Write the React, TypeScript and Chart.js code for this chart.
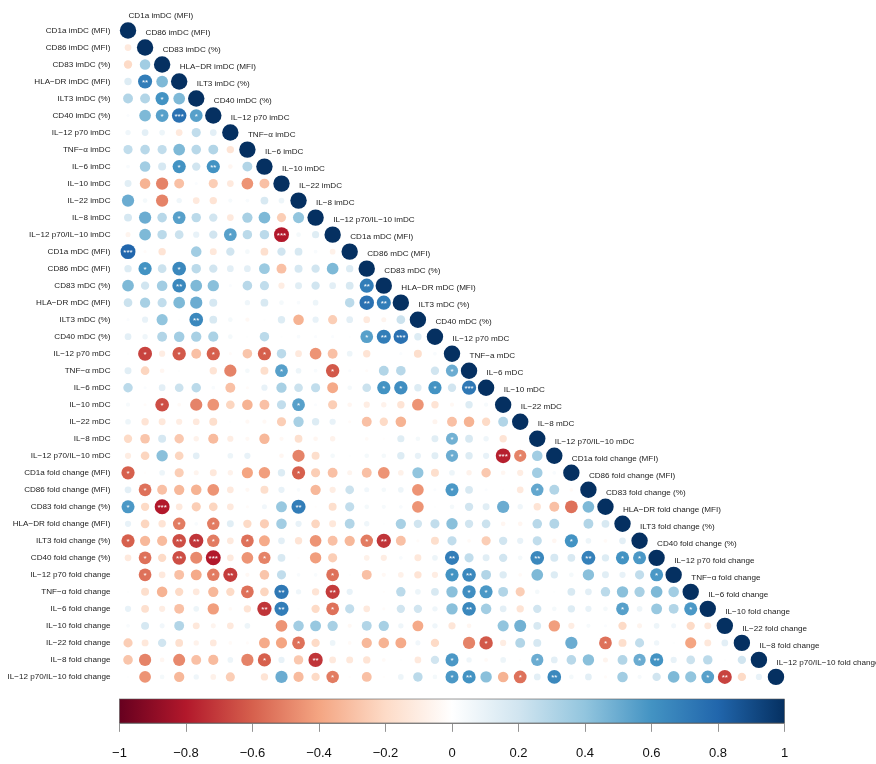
import React, { useEffect, useRef } from "react";
import { Chart, registerables } from "chart.js";

Chart.register(...registerables);

const imdcLabels = ["CD1a imDC (MFI)", "CD86 imDC (MFI)", "CD83 imDC (%)", "HLA−DR imDC (MFI)", "ILT3 imDC (%)", "CD40 imDC (%)", "IL−12 p70 imDC", "TNF−α imDC", "IL−6 imDC", "IL−10 imDC", "IL−22 imDC", "IL−8 imDC", "IL−12 p70/IL−10 imDC"];
const mdcLabels = ["CD1a mDC (MFI)", "CD86 mDC (MFI)", "CD83 mDC (%)", "HLA−DR mDC (MFI)", "ILT3 mDC (%)", "CD40 mDC (%)", "IL−12 p70 mDC", "TNF−α mDC", "IL−6 mDC", "IL−10 mDC", "IL−22 mDC", "IL−8 mDC", "IL−12 p70/IL−10 mDC"];
const foldLabels = ["CD1a fold change (MFI)", "CD86 fold change (MFI)", "CD83 fold change (%)", "HLA−DR fold change (MFI)", "ILT3 fold change (%)", "CD40 fold change (%)", "IL−12 p70 fold change", "TNF−α fold change", "IL−6 fold change", "IL−10 fold change", "IL−22 fold change", "IL−8 fold change", "IL−12 p70/IL−10 fold change"];
const rowLabels = [...imdcLabels, ...mdcLabels, ...foldLabels];
const topLabels = rowLabels.map((l) => (l === "TNF−α mDC" ? "TNF−a mDC" : l));

const imdcRows = [
  [1],
  [-.12, 1],
  [-.2, .35, 1],
  [.15, .7, .45, 1],
  [.3, .3, .6, .45, 1],
  [.02, .45, .55, .75, .55, 1],
  [.07, .12, .08, -.12, .25, .12, 1],
  [.25, .28, .25, .45, .28, .3, -.15, 1],
  [.03, .35, .18, .6, .2, .6, -.05, .3, 1],
  [.13, -.35, -.5, -.3, .02, -.25, -.12, -.45, -.3, 1],
  [.5, .05, -.5, .07, -.12, -.15, .04, .03, .17, .08, 1],
  [.18, .5, .28, .55, .27, .2, -.12, .33, .45, -.25, .4, 1],
  [-.06, .45, .27, .22, .1, .2, .55, .27, .27, -.8, .05, .14, 1],
];
const mdcRows = [
  [.8, -.02, -.15, 0, .35, -.13, .2, .05, -.17, .2, .17, .03, -.08, 1],
  [.15, .6, .22, .65, .27, .2, .12, .12, .37, -.3, .18, .2, .45, .15, 1],
  [.45, .2, .35, .65, .45, .42, .02, .28, .25, -.1, .13, .2, .12, .17, .7, 1],
  [.22, .33, .25, .45, .5, .18, 0, .07, .17, .05, .03, .08, 0, .27, .75, .7, 1],
  [.02, .1, .4, .01, .65, .17, .05, -.04, .01, .15, -.35, .1, -.25, .12, -.12, -.06, .22, 1],
  [.12, .07, .3, .35, .33, .32, .05, .01, .27, .01, .03, .02, .02, .01, .55, .7, .75, .15, 1],
  [.01, -.68, -.1, -.62, -.3, -.6, -.02, -.28, -.6, .27, -.12, -.45, -.3, .08, -.15, 0, .02, -.18, .03, 1],
  [.13, -.22, -.05, .01, 0, -.15, -.5, .05, -.18, .55, .08, .03, -.62, .02, -.02, .3, .28, 0, .2, .5, 1],
  [.27, .02, .12, .22, .27, .03, -.3, -.02, .1, .33, .22, .25, -.38, .05, .22, .6, .62, .15, .6, .2, .72, 1],
  [.04, -.02, -.65, -.03, -.5, -.45, -.22, -.35, -.3, .25, .55, .02, -.25, -.05, -.1, -.07, -.15, -.45, -.15, -.04, .15, .04, 1],
  [.08, -.15, -.13, -.1, -.12, -.18, .01, -.04, -.04, -.25, .33, .15, .1, -.02, -.3, -.2, -.35, 0, -.06, -.3, -.35, -.2, .3, 1],
  [-.2, -.28, .18, -.27, -.07, -.32, -.1, -.04, -.33, -.04, -.17, -.05, -.07, 0, -.03, -.01, .14, .05, .13, .48, .17, .07, -.15, 0, 1],
  [-.1, -.22, .42, -.22, .12, 0, .08, .1, 0, -.05, -.5, -.18, .05, .01, .05, .05, .15, .1, .13, .5, .15, .1, -.78, -.5, .35, 1],
];
const foldRows = [
  [-.6, -.01, .08, -.25, -.06, -.13, -.07, -.4, -.42, .15, -.6, -.25, -.3, -.06, -.3, -.45, -.08, .4, -.18, .08, -.07, -.27, -.05, -.1, .35, .03, 1],
  [.12, -.55, -.3, -.33, -.35, -.45, -.12, -.04, -.18, .1, .03, -.33, -.1, .22, .06, .05, .08, -.45, .02, .58, .17, .02, .01, -.12, .52, .3, -.03, 1],
  [.58, -.2, -.8, -.12, -.25, -.22, -.12, -.02, .06, .38, .7, -.01, -.18, .25, .05, .04, .03, -.45, .01, .05, .2, .13, .5, .07, -.15, -.3, -.55, .45, 1],
  [.1, -.22, -.15, -.52, .03, -.52, .13, -.2, -.25, .35, .1, -.22, -.13, .3, .07, .01, .33, .2, .25, .42, .2, .22, -.05, -.05, .28, .3, 0, .3, .17, 1],
  [-.6, -.33, -.32, -.65, -.72, -.52, -.12, -.55, -.38, .12, -.15, -.45, -.3, -.33, -.52, -.72, -.3, -.02, -.18, .25, -.03, -.25, .2, .1, .25, -.05, .6, .08, -.03, .12, 1],
  [-.12, -.55, -.2, -.65, -.48, -.8, -.12, -.45, -.5, .17, -.01, -.42, -.25, 0, -.08, -.1, .03, -.13, .08, .7, .25, .13, .2, .05, .65, .18, .17, .68, .15, .6, .58, 1],
  [0, -.55, -.12, -.3, -.38, -.52, -.7, -.04, -.28, .25, .03, .03, -.55, .01, -.3, -.04, -.08, -.15, -.1, .6, .65, .3, .15, -.03, .45, .15, .05, .42, .13, .1, .25, .58, 1],
  [.01, -.18, -.35, -.2, -.12, -.33, -.2, -.55, -.22, .72, .07, -.15, -.7, .1, 0, -.01, .27, .08, .17, .42, .62, .58, .3, -.25, .05, .01, .17, .12, .27, .42, .33, .45, .35, 1],
  [.1, -.17, -.1, -.3, .08, -.42, -.03, -.15, -.72, .7, .01, -.2, -.55, .25, -.12, -.02, .2, .2, .07, .42, .65, .35, .12, -.15, .2, .05, .15, .1, .05, .55, .08, .38, .3, .58, 1],
  [.03, .18, .06, .3, -.13, -.06, -.12, .08, 0, -.45, .35, .38, .33, -.04, .3, .33, .07, -.38, .07, -.14, -.05, 0, .4, .48, .17, -.42, -.1, .04, .02, -.2, -.06, .08, .06, -.2, -.13, 1],
  [-.25, -.13, .2, -.17, -.07, -.12, -.03, -.02, -.38, -.4, -.55, -.2, .08, -.03, -.33, -.35, -.38, .06, -.2, 0, -.5, -.62, -.1, .3, .18, 0, .5, 0, -.55, -.18, .25, .07, .01, -.4, -.13, .12, 1],
  [-.28, -.5, -.05, -.48, -.3, -.32, .08, -.5, -.6, .1, -.27, -.72, -.12, -.13, -.15, -.03, .01, -.12, .2, .58, .07, -.03, .08, -.01, .5, .12, .28, .42, -.06, .3, .5, .6, .1, .22, .27, .01, .2, 1],
  [.01, -.45, .05, -.33, .07, -.08, -.25, 0, -.15, .5, -.32, -.2, -.52, -.01, -.3, -.01, .08, .27, .05, .58, .6, .42, -.35, -.55, .12, .65, .05, .12, -.02, .35, .04, .2, .45, .4, .55, -.68, -.2, .1, 1],
];
const corrRows = [...imdcRows, ...mdcRows, ...foldRows];

// [row, column, significance stars]
const stars: [number, number, string][] = [
  [3, 1, "**"], [4, 2, "*"], [5, 2, "*"], [5, 3, "***"], [5, 4, "*"], [8, 3, "*"], [8, 5, "**"], [11, 3, "*"], [12, 6, "*"], [12, 9, "***"],
  [13, 0, "***"], [14, 1, "*"], [14, 3, "*"], [15, 3, "**"], [15, 14, "**"], [16, 14, "**"], [16, 15, "**"], [17, 4, "**"],
  [18, 14, "*"], [18, 15, "**"], [18, 16, "***"], [19, 1, "*"], [19, 3, "*"], [19, 5, "*"], [19, 8, "*"], [20, 9, "*"], [20, 12, "*"], [20, 19, "*"],
  [21, 15, "*"], [21, 16, "*"], [21, 18, "*"], [21, 20, "***"], [22, 2, "*"], [22, 10, "*"], [24, 19, "*"], [25, 19, "*"], [25, 22, "***"], [25, 23, "*"],
  [26, 0, "*"], [26, 10, "*"], [27, 1, "*"], [27, 19, "*"], [27, 24, "*"], [28, 0, "*"], [28, 2, "***"], [28, 10, "**"], [29, 3, "*"], [29, 5, "*"],
  [30, 0, "*"], [30, 3, "**"], [30, 4, "**"], [30, 5, "*"], [30, 7, "*"], [30, 14, "*"], [30, 15, "**"], [30, 26, "*"],
  [31, 1, "*"], [31, 3, "**"], [31, 5, "***"], [31, 8, "*"], [31, 19, "**"], [31, 24, "**"], [31, 27, "**"], [31, 29, "*"], [31, 30, "*"],
  [32, 1, "*"], [32, 5, "*"], [32, 6, "**"], [32, 12, "*"], [32, 19, "*"], [32, 20, "**"], [32, 31, "*"],
  [33, 7, "*"], [33, 9, "**"], [33, 12, "**"], [33, 20, "*"], [33, 21, "*"],
  [34, 8, "**"], [34, 9, "**"], [34, 12, "*"], [34, 20, "**"], [34, 29, "*"], [34, 33, "*"],
  [36, 10, "*"], [36, 21, "*"], [36, 28, "*"], [37, 8, "*"], [37, 11, "**"], [37, 19, "*"], [37, 24, "*"], [37, 30, "*"], [37, 31, "**"],
  [38, 12, "*"], [38, 19, "*"], [38, 20, "**"], [38, 23, "*"], [38, 25, "**"], [38, 34, "*"], [38, 35, "**"],
];

const colorStops = ["#67001F", "#B2182B", "#D6604D", "#F4A582", "#FDDBC7", "#FFFFFF", "#D1E5F0", "#92C5DE", "#4393C3", "#2166AC", "#053061"];
const legendTicks = [-1, -0.8, -0.6, -0.4, -0.2, 0, 0.2, 0.4, 0.6, 0.8, 1];

const FONT = '"Liberation Sans", Arial, sans-serif';
const MAX_RADIUS = 8.2;
const RADIUS_POWER = 0.42;
const LEGEND_Y_TOP = 39.3;
const LEGEND_Y_BOTTOM = 40.71;

function hexToRgb(h: string) {
  return [parseInt(h.slice(1, 3), 16), parseInt(h.slice(3, 5), 16), parseInt(h.slice(5, 7), 16)];
}
function colorFor(v: number) {
  const t = ((Math.max(-1, Math.min(1, v)) + 1) / 2) * (colorStops.length - 1);
  const i = Math.min(Math.floor(t), colorStops.length - 2);
  const a = hexToRgb(colorStops[i]);
  const b = hexToRgb(colorStops[i + 1]);
  const f = t - i;
  return `rgb(${a.map((c, k) => Math.round(c + (b[k] - c) * f)).join(",")})`;
}

const corrDecorations = {
  id: "corrDecorations",
  afterDatasetsDraw(chart: any) {
    const { ctx, scales } = chart;
    const { x, y, legendScale } = scales;
    ctx.save();
    // diagonal variable names
    ctx.font = `8.1px ${FONT}`;
    ctx.fillStyle = "#222";
    ctx.textAlign = "left";
    ctx.textBaseline = "middle";
    topLabels.forEach((label, i) => {
      ctx.fillText(label, x.getPixelForValue(i) + 0.5, y.getPixelForValue(i) - 14.5);
    });
    // significance stars
    ctx.fillStyle = "#fff";
    ctx.textAlign = "center";
    ctx.textBaseline = "alphabetic";
    ctx.font = `8px ${FONT}`;
    stars.forEach(([r, c, s]) => {
      ctx.fillText(s, x.getPixelForValue(c), y.getPixelForValue(r) + 3.2);
    });
    // colour legend
    const left = legendScale.getPixelForValue(-1);
    const right = legendScale.getPixelForValue(1);
    const top = y.getPixelForValue(LEGEND_Y_TOP);
    const bottom = y.getPixelForValue(LEGEND_Y_BOTTOM);
    const g = ctx.createLinearGradient(left, 0, right, 0);
    colorStops.forEach((c, i) => g.addColorStop(i / (colorStops.length - 1), c));
    ctx.fillStyle = g;
    ctx.fillRect(left, top, right - left, bottom - top);
    ctx.strokeStyle = "#555";
    ctx.lineWidth = 0.6;
    ctx.strokeRect(left, top, right - left, bottom - top);
    ctx.restore();
  },
};

export default function App() {
  const ref = useRef<HTMLCanvasElement | null>(null);
  useEffect(() => {
    if (!ref.current) return;
    const points: any[] = [];
    corrRows.forEach((row, r) =>
      row.forEach((v, c) => {
        points.push({ x: c, y: r, v, r: MAX_RADIUS * Math.pow(Math.abs(v), RADIUS_POWER) });
      })
    );
    const chart = new Chart(ref.current, {
      type: "bubble",
      data: {
        datasets: [
          {
            label: "Correlation",
            data: points,
            backgroundColor: (ctx: any) => colorFor(ctx.raw ? ctx.raw.v : 0),
            borderWidth: 0,
            clip: false as any,
          },
        ],
      },
      options: {
        animation: false,
        responsive: false,
        layout: { padding: { top: 22, right: 91.5, bottom: 41, left: 0 } },
        plugins: { legend: { display: false }, tooltip: { enabled: false } },
        scales: {
          x: { type: "linear", min: -0.5, max: 38.5, display: false },
          y: {
            type: "linear",
            reverse: true,
            min: -0.5,
            max: LEGEND_Y_BOTTOM,
            grid: { display: false, drawTicks: false },
            border: { display: false },
            afterBuildTicks: (s: any) => {
              s.ticks = rowLabels.map((_, i) => ({ value: i }));
            },
            afterFit: (s: any) => {
              s.width = 119.5;
            },
            ticks: {
              autoSkip: false,
              padding: 9,
              color: "#222",
              font: { family: FONT, size: 8.1 },
              callback: (v: any) => rowLabels[v as number] ?? "",
            },
          },
          legendScale: {
            type: "linear",
            axis: "x",
            min: -1,
            max: 1,
            position: { y: LEGEND_Y_BOTTOM } as any,
            grid: { display: true, drawOnChartArea: false, drawTicks: true, tickLength: 8, color: "#666", lineWidth: 0.7 },
            border: { display: true, color: "#666", width: 0.7 },
            afterBuildTicks: (s: any) => {
              s.ticks = legendTicks.map((value) => ({ value }));
            },
            ticks: {
              autoSkip: false,
              maxRotation: 0,
              padding: 15,
              color: "#111",
              font: { family: FONT, size: 13 },
              callback: (v: any) => String(Math.round(v * 10) / 10).replace("-", "−"),
            },
          },
        } as any,
      },
      plugins: [corrDecorations],
    } as any);
    return () => chart.destroy();
  }, []);
  return (
    <canvas
      ref={ref}
      width={876}
      height={764}
      style={{ position: "absolute", left: 0, top: 0, display: "block", width: 876, height: 764, filter: "blur(0.35px)" }}
    />
  );
}
